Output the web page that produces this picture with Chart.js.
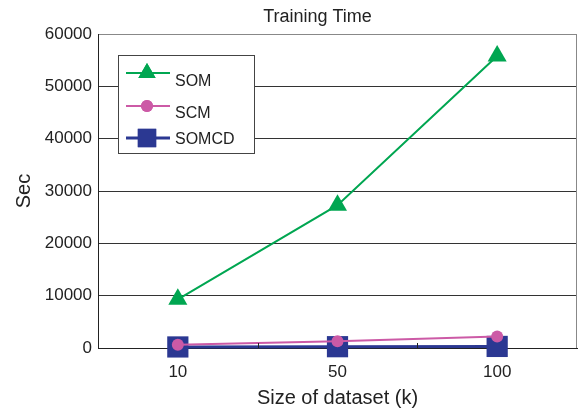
<!DOCTYPE html>
<html>
<head>
<meta charset="utf-8">
<script src="https://cdn.jsdelivr.net/npm/chart.js@4.4.0/dist/chart.umd.min.js"></script>
<style>
  html, body { margin: 0; padding: 0; background: #fff; overflow: hidden; }
  #wrap { width: 581px; height: 414px; }
  canvas { display: block; }
</style>
</head>
<body>
<div id="wrap"><canvas id="timeChart" width="581" height="414"></canvas></div>
<script>
const datasetSizes = ['10', '50', '100'];
const somTime = [9300, 27300, 55800];
const scmTime = [600, 1300, 2200];
const somcdTime = [200, 250, 300];
const yTicks = [0, 10000, 20000, 30000, 40000, 50000, 60000];

const FONT = "'Liberation Sans', Arial, sans-serif";

// frame, title, x labels, boundary ticks and the boxed legend inside the plot
const framePlugin = {
    id: 'frameAndLegend',
    afterDraw(chart) {
        const ctx = chart.ctx;
        const area = chart.chartArea;
        const x = chart.scales.x;

        ctx.save();

        // right edge of the axes box
        ctx.strokeStyle = '#888';
        ctx.lineWidth = 1;
        ctx.beginPath();
        ctx.moveTo(area.right - 0.5, area.top);
        ctx.lineTo(area.right - 0.5, area.bottom);
        ctx.stroke();

        // small ticks between categories
        ctx.strokeStyle = '#222';
        const step = x.getPixelForTick(1) - x.getPixelForTick(0);
        for (let i = 0; i < datasetSizes.length - 1; i++) {
            const px = Math.round(x.getPixelForTick(i) + step / 2) + 0.5;
            ctx.beginPath();
            ctx.moveTo(px, area.bottom);
            ctx.lineTo(px, area.bottom - 5);
            ctx.stroke();
        }

        // category labels under the axis
        ctx.fillStyle = '#222';
        ctx.font = '17px ' + FONT;
        ctx.textAlign = 'center';
        ctx.textBaseline = 'top';
        datasetSizes.forEach((lbl, i) => {
            ctx.fillText(lbl, x.getPixelForTick(i), area.bottom + 16);
        });

        // title
        ctx.font = '18px ' + FONT;
        ctx.textBaseline = 'middle';
        ctx.fillText('Training Time', (area.left + area.right) / 2 - 20, 17);

        // legend
        const bx = area.left + 20.5, by = area.top + 21.5, bw = 136, bh = 98;
        ctx.fillStyle = '#fff';
        ctx.fillRect(bx, by, bw, bh);
        ctx.strokeStyle = '#444';
        ctx.strokeRect(bx, by, bw, bh);

        const rows = [
            { line: 39, text: 48 },
            { line: 72, text: 80 },
            { line: 104, text: 106 }
        ];
        chart.data.datasets.forEach((ds, i) => {
            const ly = area.top + rows[i].line;
            ctx.strokeStyle = ds.borderColor;
            ctx.lineWidth = ds.borderWidth;
            ctx.beginPath();
            ctx.moveTo(area.left + 28, ly);
            ctx.lineTo(area.left + 72, ly);
            ctx.stroke();
            ctx.fillStyle = ds.pointBackgroundColor;
            Chart.helpers.drawPoint(ctx, {
                pointStyle: ds.pointStyle,
                radius: ds.legendRadius,
                rotation: 0,
                borderWidth: 0
            }, area.left + 49, ly);
            ctx.fill();
            ctx.fillStyle = '#222';
            ctx.font = '16px ' + FONT;
            ctx.textAlign = 'left';
            ctx.textBaseline = 'middle';
            ctx.fillText(ds.label, area.left + 77, area.top + rows[i].text);
        });

        ctx.restore();
    }
};

new Chart(document.getElementById('timeChart'), {
    type: 'line',
    data: {
        labels: datasetSizes,
        datasets: [
            {
                label: 'SOM',
                data: somTime,
                borderColor: '#00a651',
                backgroundColor: '#00a651',
                pointBackgroundColor: '#00a651',
                borderWidth: 2,
                pointStyle: 'triangle',
                pointRadius: 11,
                pointBorderWidth: 0,
                legendRadius: 10,
                order: 0,
                clip: false
            },
            {
                label: 'SCM',
                data: scmTime,
                borderColor: '#cc5aa6',
                backgroundColor: '#cc5aa6',
                pointBackgroundColor: '#cc5aa6',
                borderWidth: 2,
                pointStyle: 'circle',
                pointRadius: 6,
                pointBorderWidth: 0,
                legendRadius: 6,
                order: 1,
                clip: false
            },
            {
                label: 'SOMCD',
                data: somcdTime,
                borderColor: '#2b3892',
                backgroundColor: '#2b3892',
                pointBackgroundColor: '#2b3892',
                borderWidth: 3,
                pointStyle: 'rect',
                pointRadius: 15,
                pointBorderWidth: 0,
                legendRadius: 13,
                order: 2,
                clip: false
            }
        ]
    },
    options: {
        responsive: false,
        animation: false,
        devicePixelRatio: 1,
        layout: {
            autoPadding: false, // big markers would otherwise shrink the plot
            padding: { top: 34, right: 4, left: 0, bottom: 0 }
        },
        plugins: {
            legend: { display: false },
            title: { display: false },
            tooltip: { enabled: false }
        },
        scales: {
            x: {
                offset: true,
                grid: { display: false },
                border: { display: true, color: '#222', width: 1 },
                ticks: { display: false },
                title: {
                    display: true,
                    text: 'Size of dataset (k)',
                    color: '#222',
                    font: { family: FONT, size: 20 },
                    padding: { top: 0, bottom: 4 }
                },
                afterFit(scale) { scale.height = 66; }
            },
            y: {
                min: 0,
                max: 60000,
                afterBuildTicks(scale) {
                    scale.ticks = yTicks.map(v => ({ value: v }));
                },
                grid: {
                    color: c => (c.tick && c.tick.value === 60000) ? '#888' : '#333',
                    lineWidth: 1,
                    drawTicks: false
                },
                border: { display: true, color: '#222', width: 1 },
                ticks: {
                    color: '#222',
                    font: { family: FONT, size: 17 },
                    padding: 6,
                    callback: v => String(v)
                },
                title: {
                    display: true,
                    text: 'Sec',
                    color: '#222',
                    font: { family: FONT, size: 20 },
                    padding: { top: 12, bottom: 0 }
                },
                afterFit(scale) { scale.width = 98; }
            }
        }
    },
    plugins: [framePlugin]
});
</script>
</body>
</html>
